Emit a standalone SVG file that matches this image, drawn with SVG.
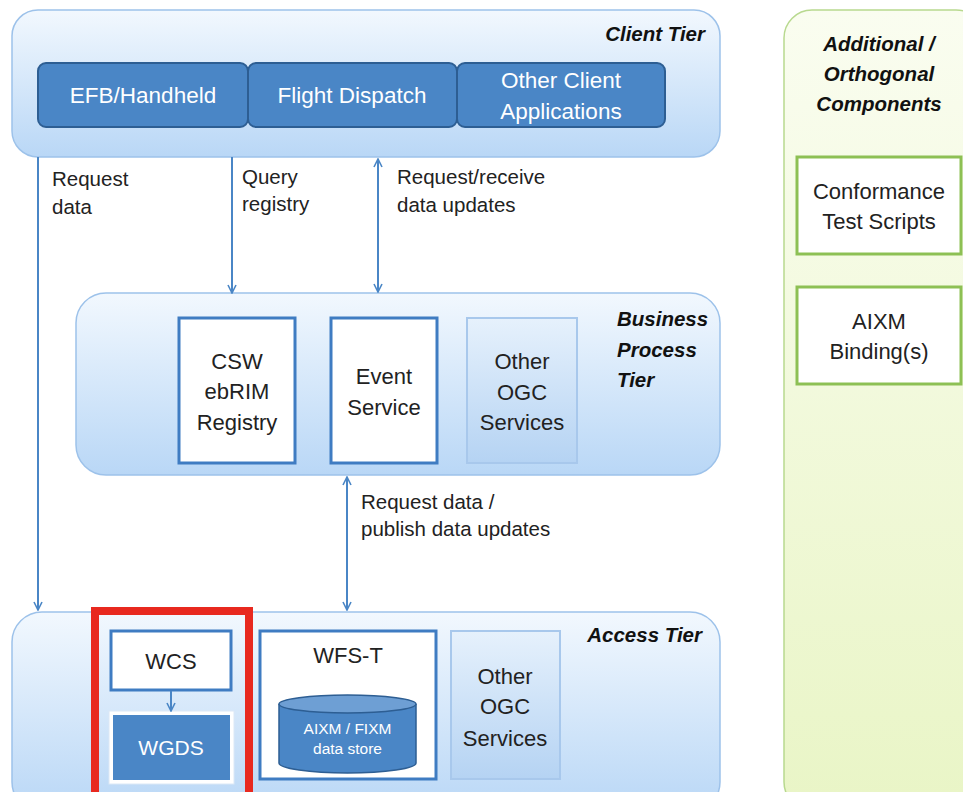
<svg xmlns="http://www.w3.org/2000/svg" width="963" height="792" viewBox="0 0 963 792">
<defs>
<linearGradient id="tierGrad" x1="0" y1="0" x2="0" y2="1">
<stop offset="0" stop-color="#f2f8fe"/>
<stop offset="1" stop-color="#b9d7f6"/>
</linearGradient>
<linearGradient id="otherGrad" x1="0" y1="0" x2="0" y2="1">
<stop offset="0" stop-color="#e6f1fc"/>
<stop offset="1" stop-color="#b5d3f3"/>
</linearGradient>
<linearGradient id="greenGrad" x1="0" y1="0" x2="0" y2="1">
<stop offset="0" stop-color="#fafdf0"/>
<stop offset="1" stop-color="#e9f5c6"/>
</linearGradient>
<marker id="arr" viewBox="0 0 10 10" refX="9" refY="5" markerWidth="10" markerHeight="10" markerUnits="userSpaceOnUse" orient="auto-start-reverse">
<path d="M1,1 L9,5 L1,9" fill="none" stroke="#4a86c6" stroke-width="1.6"/>
</marker>
</defs>
<style>
.tier{fill:url(#tierGrad);stroke:#9dc2ea;stroke-width:1.5}
.client{fill:#4a86c6;stroke:#2d5e93;stroke-width:2}
.white{fill:#ffffff;stroke:#3f7cc2;stroke-width:3}
.other{fill:url(#otherGrad);stroke:#a8c8ec;stroke-width:2}
.green{fill:#ffffff;stroke:#8dc054;stroke-width:3}
.t{font-family:"Liberation Sans",Arial,sans-serif;fill:#222;text-anchor:middle;font-size:22px}
.tw{font-family:"Liberation Sans",Arial,sans-serif;fill:#ffffff;text-anchor:middle}
.lbl{font-family:"Liberation Sans",Arial,sans-serif;fill:#222;font-size:20.5px}
.tt{font-family:"Liberation Sans",Arial,sans-serif;fill:#111;font-weight:bold;font-style:italic;font-size:20.5px}
.conn{stroke:#4a86c6;stroke-width:2;fill:none}
</style>
<rect width="963" height="792" fill="#ffffff"/>

<g id="additional">
<rect x="784" y="10" width="200" height="800" rx="28" fill="url(#greenGrad)" stroke="#b8d98f" stroke-width="1.5"/>
<text class="tt" text-anchor="middle" x="879" y="51" font-size="22.5">Additional /</text>
<text class="tt" text-anchor="middle" x="879" y="81" font-size="22.5">Orthogonal</text>
<text class="tt" text-anchor="middle" x="879" y="111" font-size="22.5">Components</text>
</g>
<g id="conformance">
<rect class="green" x="797" y="157" width="164" height="97"/>
<text class="t" font-size="22.5" x="879" y="199">Conformance</text>
<text class="t" font-size="22.5" x="879" y="229">Test Scripts</text>
</g>
<g id="aixm-binding">
<rect class="green" x="797" y="287" width="164" height="97"/>
<text class="t" font-size="22.5" x="879" y="329">AIXM</text>
<text class="t" font-size="22.5" x="879" y="359">Binding(s)</text>
</g>

<g id="client-tier">
<rect class="tier" x="12" y="10" width="708" height="147" rx="26"/>
<text class="tt" text-anchor="end" x="705" y="41" font-size="21.5">Client Tier</text>
</g>
<g id="efb">
<rect class="client" x="38" y="63" width="210" height="64" rx="8"/>
<text class="tw" font-size="22.5" x="143" y="103">EFB/Handheld</text>
</g>
<g id="flight-dispatch">
<rect class="client" x="248" y="63" width="209" height="64" rx="8"/>
<text class="tw" font-size="22.5" x="352" y="103">Flight Dispatch</text>
</g>
<g id="other-client">
<rect class="client" x="457" y="63" width="208" height="64" rx="8"/>
<text class="tw" font-size="22.5" x="561" y="88">Other Client</text>
<text class="tw" font-size="22.5" x="561" y="119">Applications</text>
</g>

<g id="business-tier">
<rect class="tier" x="76" y="293" width="644" height="182" rx="30"/>
<text class="tt" x="617" y="326">Business</text>
<text class="tt" x="617" y="357">Process</text>
<text class="tt" x="617" y="387">Tier</text>
</g>
<g id="csw">
<rect class="white" x="179" y="318" width="116" height="145"/>
<text class="t" x="237" y="369">CSW</text>
<text class="t" x="237" y="399">ebRIM</text>
<text class="t" x="237" y="430">Registry</text>
</g>
<g id="event-service">
<rect class="white" x="331" y="318" width="106" height="145"/>
<text class="t" x="384" y="384">Event</text>
<text class="t" x="384" y="415">Service</text>
</g>
<g id="other-ogc-bp">
<rect class="other" x="467" y="318" width="110" height="145"/>
<text class="t" x="522" y="369">Other</text>
<text class="t" x="522" y="400">OGC</text>
<text class="t" x="522" y="430">Services</text>
</g>

<g id="access-tier">
<rect class="tier" x="12" y="612" width="708" height="200" rx="30"/>
<text class="tt" text-anchor="end" x="702" y="642">Access Tier</text>
</g>
<g id="wcs">
<rect class="white" x="111" y="631" width="120" height="59"/>
<text class="t" font-size="21" x="171" y="669">WCS</text>
</g>
<g id="wgds">
<rect x="109" y="711" width="125" height="73" fill="#ffffff" stroke="#dbe8f6" stroke-width="1"/>
<rect x="113" y="715" width="117" height="65" fill="#4a86c6"/>
<text class="tw" font-size="21" x="171" y="755">WGDS</text>
</g>
<g id="wfs-t">
<rect class="white" x="260" y="631" width="176" height="148"/>
<text class="t" font-size="20" x="348" y="663">WFS-T</text>
</g>
<g id="data-store">
<path d="M279,704 L279,763 A68.5,10 0 0 0 416,763 L416,704" fill="#4a86c6" stroke="#2d5e93" stroke-width="1.5"/>
<ellipse cx="347.5" cy="704" rx="68.5" ry="9" fill="#6e9fd4" stroke="#2d5e93" stroke-width="1.5"/>
<text class="tw" font-size="15.5" x="347.5" y="734">AIXM / FIXM</text>
<text class="tw" font-size="15.5" x="347.5" y="754">data store</text>
</g>
<g id="other-ogc-access">
<rect class="other" x="451" y="631" width="109" height="148"/>
<text class="t" font-size="21.5" x="505" y="684">Other</text>
<text class="t" font-size="21.5" x="505" y="714">OGC</text>
<text class="t" font-size="21.5" x="505" y="746">Services</text>
</g>

<g id="highlight">
<rect x="95" y="611" width="154" height="190" fill="none" stroke="#e8291f" stroke-width="8"/>
</g>

<g id="connectors">
<line class="conn" x1="38" y1="157" x2="38" y2="610" marker-end="url(#arr)"/>
<line class="conn" x1="232" y1="157" x2="232" y2="293" marker-end="url(#arr)"/>
<line class="conn" x1="378" y1="159" x2="378" y2="292" marker-start="url(#arr)" marker-end="url(#arr)"/>
<line class="conn" x1="347" y1="477" x2="347" y2="610" marker-start="url(#arr)" marker-end="url(#arr)"/>
<line class="conn" x1="171" y1="691" x2="171" y2="711" marker-end="url(#arr)"/>
<text class="lbl" x="52" y="186">Request</text>
<text class="lbl" x="52" y="214">data</text>
<text class="lbl" x="242" y="184">Query</text>
<text class="lbl" x="242" y="211">registry</text>
<text class="lbl" x="397" y="184">Request/receive</text>
<text class="lbl" x="397" y="212">data updates</text>
<text class="lbl" x="361" y="509">Request data /</text>
<text class="lbl" x="361" y="536">publish data updates</text>
</g>
</svg>
